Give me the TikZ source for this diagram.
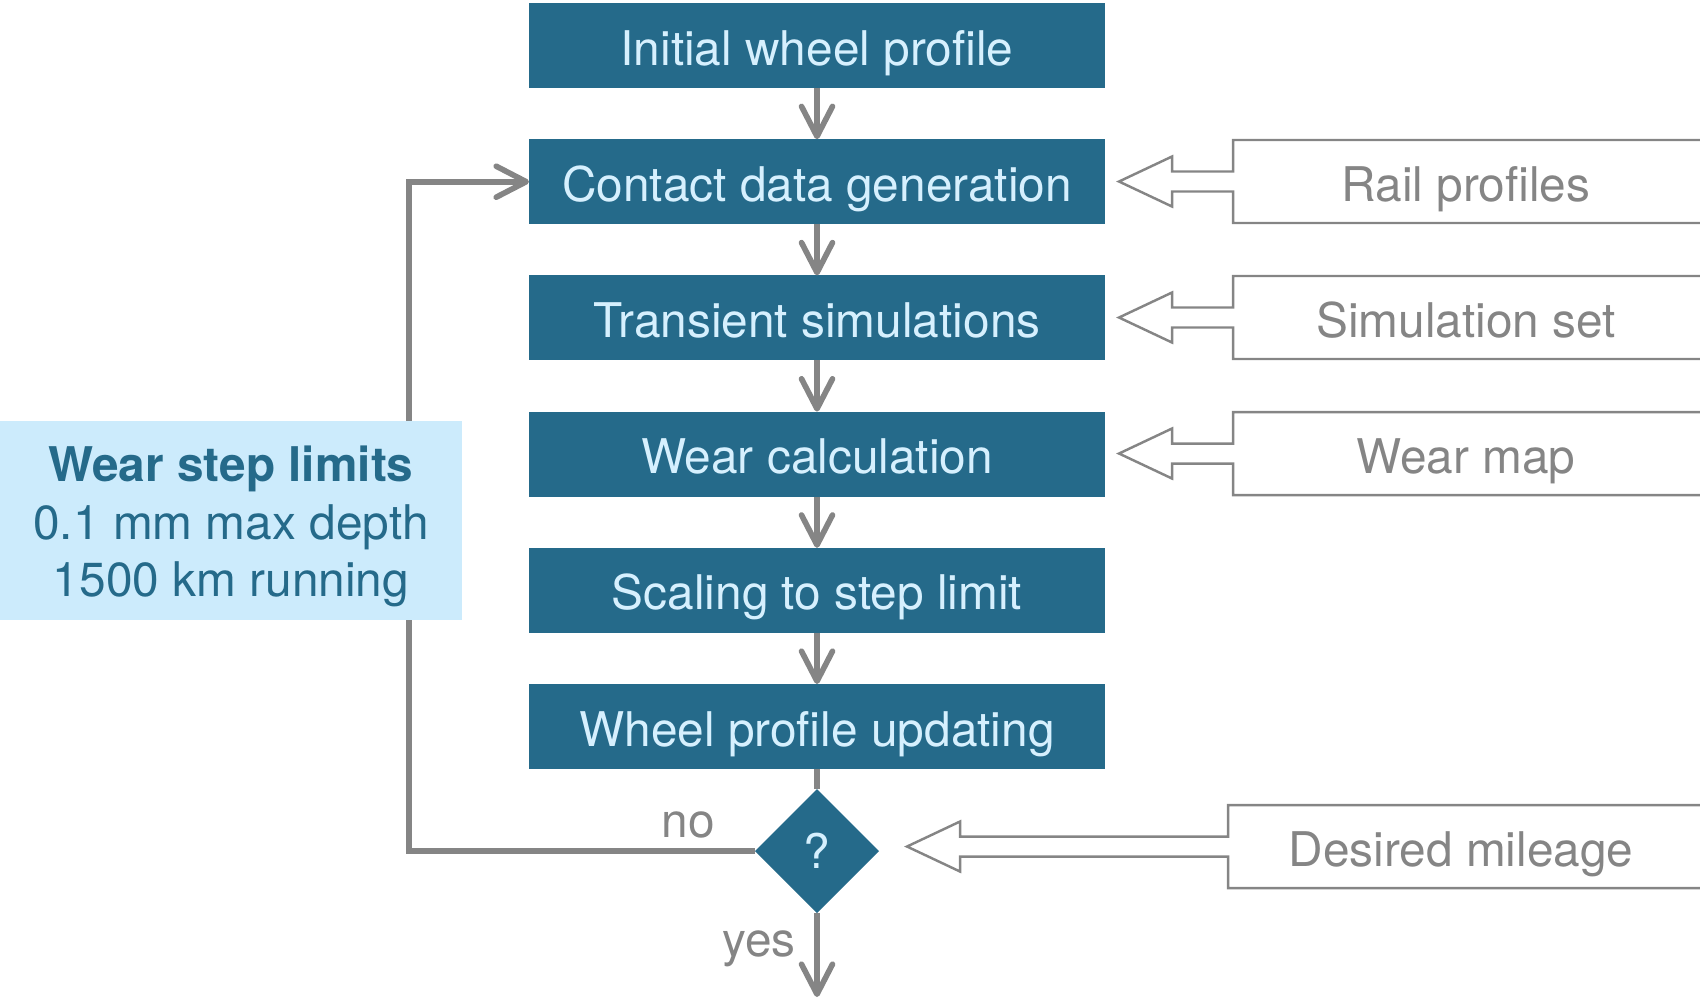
\documentclass[tikz,border=0pt]{standalone}
\usepackage{fontspec}
\setmainfont{TeX Gyre Heros}
\usetikzlibrary{arrows.meta,calc,positioning,shapes.geometric}
\definecolor{WearBlue}{HTML}{256A8A}
\definecolor{WearPale}{HTML}{D6F0FE}
\definecolor{WearPanel}{HTML}{CCEBFC}
\definecolor{WearGray}{HTML}{858585}
\tikzset{
  stepbox/.style={fill=WearBlue,text=WearPale,minimum width=57.6mm,
    minimum height=8.5mm,inner sep=0pt,outer sep=0pt,text height=13pt,text depth=1.9pt},
  inbox/.style={text=WearGray,minimum width=46.6mm,minimum height=8.3mm,inner sep=0pt,
    outer sep=0pt,text height=13pt,text depth=1.9pt},
  flow/.style={draw=WearGray,line width=1.6pt},
  feed/.style={draw=WearGray,line width=0.7pt,line join=miter},
  tag/.style={text=WearGray,inner sep=0pt}
}
% hollow input arrow, joined to the open frame of the input box
\newcommand\feedarrow[3]{% #1 receiving node, #2 input box, #3 gap before the tip
  \draw[feed] ($(#2.north west)+(480,0)$) -- (#2.north west) -- ($(#2.west)+(0,-10)$)
    -- ($(#1.east |- #2.west)+(#3+53,-10)$) -- ++(0,-15)
    -- ($(#1.east |- #2.west)+(#3,0)$) -- ++(53,25) -- ++(0,-15)
    -- ($(#2.west)+(0,10)$) -- (#2.south west) -- ++(480,0);
}

\begin{document}
\begin{tikzpicture}[x=0.1mm,y=-0.1mm,font=\fontsize{13.6}{16.4}\selectfont]
        \useasboundingbox (0,0) rectangle (1700,997);
        \clip (0,0) rectangle (1700,997);

        % main chain
        \node[stepbox] (init) at (817,45.5) {Initial wheel profile};
        \node[stepbox,below=5.12mm of init] (contact) {Contact data generation};
        \node[stepbox,below=5.12mm of contact] (transient) {Transient simulations};
        \node[stepbox,below=5.12mm of transient] (wear) {Wear calculation};
        \node[stepbox,below=5.12mm of wear] (scaling) {Scaling to step limit};
        \node[stepbox,below=5.12mm of scaling] (update) {Wheel profile updating};
        \node[diamond,fill=WearBlue,text=WearPale,minimum width=12.4mm,
          minimum height=12.4mm,inner sep=0pt,outer sep=0pt,below=2mm of update] (check) {?};

        \foreach \a/\b in {init/contact,contact/transient,transient/wear,
                           wear/scaling,scaling/update}
          \draw[flow,-{Straight Barb[length=3mm,width=3.1mm,round]}] (\a) -- (\b);
        \draw[flow] (update) -- (check);

        % loop back and exit
        \coordinate (back) at ($(contact.west)+(-120,0)$);
        \coordinate (exit) at (check.south |- 0,997);
        \draw[flow,-{Straight Barb[length=3mm,width=3.1mm,round]}]
          (check.west) -| (back) -- (contact.west);
        \draw[flow,-{Straight Barb[length=3mm,width=3.1mm,round]}] (check) -- (exit);
        \node[tag] (no) at (688,824.5) {no};
        \node[tag] (yes) at (759,948.5) {yes};

        % step limits
        \node[fill=WearPanel,text=WearBlue,minimum width=46.2mm,minimum height=19.9mm,
          align=center,inner sep=0pt] (limits) at (231,520.5)
          {\rule{0pt}{13.6pt}\textbf{Wear step limits}\\0.1 mm max depth\\1500 km running};

        % inputs
        \node[inbox] (rails) at (1466,181.5) {Rail profiles};
        \node[inbox] (simset) at (1466,317.5) {Simulation set};
        \node[inbox] (wearmap) at (1466,453.5) {Wear map};
        \node[inbox] (mileage) at (1461,846.5) {Desired mileage};
        \feedarrow{contact}{rails}{14}
        \feedarrow{transient}{simset}{14}
        \feedarrow{wear}{wearmap}{14}
        \feedarrow{check}{mileage}{28}
      \end{tikzpicture}
\end{document}
